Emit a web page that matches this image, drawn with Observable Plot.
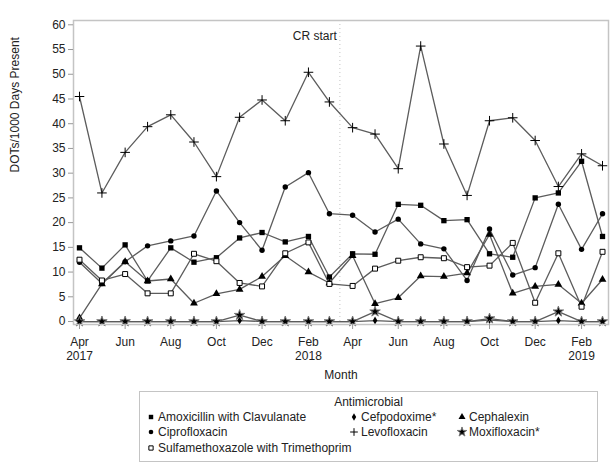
<!DOCTYPE html>
<html><head><meta charset="utf-8">
<script src="https://cdn.jsdelivr.net/npm/d3@7"></script>
<script src="https://cdn.jsdelivr.net/npm/@observablehq/plot@0.6"></script>
<style>
body{margin:0;background:#fff;font-family:Arial,"Liberation Sans",sans-serif;}
#chart{position:relative;width:611px;height:466px;overflow:hidden;}
#chart > svg{position:absolute;left:0;top:0;}
#legend{position:absolute;left:139px;top:391px;width:459px;height:71px;border:1px solid #c4c4c4;box-sizing:border-box;font-size:12px;color:#222;}
.li{position:absolute;white-space:nowrap;line-height:14px;}
.li svg{position:absolute;left:-12px;top:2px;overflow:visible;}
</style></head><body><div id="chart"></div>
<script>
const months = ["2017-04-01","2017-05-01","2017-06-01","2017-07-01","2017-08-01","2017-09-01","2017-10-01","2017-11-01","2017-12-01","2018-01-01","2018-02-01","2018-03-01","2018-04-01","2018-05-01","2018-06-01","2018-07-01","2018-08-01","2018-09-01","2018-10-01","2018-11-01","2018-12-01","2019-01-01","2019-02-01","2019-03-01"];
const amoxicillin = [14.9,10.8,15.5,8.2,14.9,12.0,12.9,16.9,18.0,16.1,17.2,9.0,13.7,13.6,23.7,23.5,20.4,20.6,13.7,13.0,25.0,26.0,32.4,17.2];
const cefpodoxime = [0,0,0,0,0,0,0,0.2,0,0,0,0,0,0.2,0,0,0,0,0.3,0,0,0.2,0,0];
const cephalexin = [0.7,7.6,12.1,8.2,8.6,3.7,5.6,6.5,9.1,13.3,10.0,7.8,13.3,3.6,4.8,9.2,9.1,9.8,17.6,5.7,7.1,7.5,3.7,8.5];
const ciprofloxacin = [12.0,7.7,12.1,15.3,16.3,17.3,26.4,20.0,14.4,27.2,30.1,21.8,21.5,18.1,20.7,15.7,14.7,8.3,18.7,9.4,10.9,23.7,14.6,21.8];
const levofloxacin = [45.5,26.0,34.2,39.4,41.8,36.3,29.3,41.3,44.8,40.6,50.4,44.4,39.2,37.9,30.9,55.7,35.9,25.5,40.6,41.2,36.6,27.3,33.9,31.5];
const moxifloxacin = [0,0,0,0,0,0,0,1.3,0,0,0,0,0,2.0,0,0,0,0,0.6,0,0,2.0,0,0];
const sulfamethoxazole = [12.5,8.3,9.6,5.7,5.7,13.7,12.2,7.8,7.1,13.8,16.0,7.6,7.2,10.7,12.3,13.0,12.8,11.0,11.3,15.9,3.8,13.8,3.0,14.1];
const seriesNames = ["Amoxicillin with Clavulanate","Cefpodoxime*","Cephalexin","Ciprofloxacin","Levofloxacin","Moxifloxacin*","Sulfamethoxazole with Trimethoprim"];
const xTicks = ["2017-04-01","2017-06-01","2017-08-01","2017-10-01","2017-12-01","2018-02-01","2018-04-01","2018-06-01","2018-08-01","2018-10-01","2018-12-01","2019-02-01"];
const yTicks = [0,5,10,15,20,25,30,35,40,45,50,55,60];
const crStart = "2018-03-15";
const crLabel = "CR start";
const xLabel = "Month";
const yLabel = "DOTs/1000 Days Present";
const legendTitle = "Antimicrobial";

const parse = d3.utcParse("%Y-%m-%d");
const valuesList = [amoxicillin, cefpodoxime, cephalexin, ciprofloxacin, levofloxacin, moxifloxacin, sulfamethoxazole];
const styles = [
  {symbol:"square", fill:"#000", stroke:"none", r:3.0, lr:2.5},
  {symbol:"diamond", fill:"#000", stroke:"none", r:2.4, lr:2.3},
  {symbol:"triangle", fill:"#000", stroke:"none", r:2.9, lr:2.6},
  {symbol:"circle", fill:"#000", stroke:"none", r:2.7, lr:2.3},
  {symbol:"plus", fill:"none", stroke:"#000", r:3.2, lr:2.6},
  {symbol:"star", fill:"#000", stroke:"#777", r:3.3, lr:3.0},
  {symbol:"square", fill:"#fff", stroke:"#000", r:2.8, lr:2.4}
];
const series = seriesNames.map((name, k) => ({name, values: valuesList[k], ...styles[k]}));

const lineMarks = [], dotMarks = [];
for (const s of series) {
  const rows = s.values.map((v, i) => ({date: parse(months[i]), value: v}));
  lineMarks.push(Plot.line(rows, {x:"date", y:"value", stroke:"#5c5c5c", strokeWidth:1.3}));
  dotMarks.push(Plot.dot(rows, {x:"date", y:"value", symbol:()=>s.symbol, r:s.r, fill:s.fill, stroke:s.stroke, strokeWidth:1}));
}

const fmt = d3.utcFormat("%b");
const plot = Plot.plot({
  width: 611, height: 390,
  marginLeft: 73, marginRight: 3, marginTop: 20, marginBottom: 66,
  style: {fontFamily: "Arial, 'Liberation Sans', sans-serif", fontSize: "12px", color: "#222", background: "#fff"},
  x: {type: "utc", domain: [parse("2017-03-24"), parse("2019-03-09")]},
  y: {domain: [-0.6, 60.87]},
  symbol: {type: "identity"},
  marks: [
    Plot.ruleX([parse(crStart)], {x: d => d, stroke: "#c4c4c4", strokeDasharray: "1,3"}),
    Plot.text([crLabel], {x: [parse(crStart)], frameAnchor: "top", textAnchor: "end", dx: -3, dy: 11, fill: "#222", fontSize: 12}),
    ...lineMarks,
    ...dotMarks,
    Plot.frame({stroke: "#c4c4c4", strokeWidth: 1.5}),
    Plot.axisY({ticks: yTicks, tickSize: 5, tickPadding: 3, stroke: "#999", fill: "#222", fontSize: 12, label: null}),
    Plot.axisX({ticks: xTicks.map(parse), tickSize: 5, tickPadding: 7, stroke: "#999", fill: "#222", fontSize: 12, lineHeight: 1.15, label: null,
      tickFormat: d => { const m = fmt(d); return (d.getUTCMonth() === 1 || +d === +parse(xTicks[0])) ? m + "\n" + d.getUTCFullYear() : m; }}),
    Plot.text([xLabel], {frameAnchor: "bottom", dy: 54, fill: "#222", fontSize: 12}),
    Plot.text([yLabel], {frameAnchor: "left", rotate: -90, dx: -58, fill: "#222", fontSize: 12})
  ]
});
const chart = document.getElementById("chart");
chart.appendChild(plot);

// legend
const legend = document.createElement("div");
legend.id = "legend";
chart.appendChild(legend);
const title = document.createElement("div");
title.className = "li";
title.textContent = legendTitle;
title.style.left = "0px"; title.style.width = "457px"; title.style.textAlign = "center"; title.style.top = "3px";
legend.appendChild(title);
const symTypes = {square: d3.symbolSquare, diamond: d3.symbolDiamond, triangle: d3.symbolTriangle, circle: d3.symbolCircle, plus: d3.symbolPlus, star: d3.symbolStar};
const pos = [[18,18],[221,18],[329,18],[18,33],[221,33],[329,33],[18,49]];
series.forEach((s, k) => {
  const d = document.createElement("div");
  d.className = "li";
  d.style.left = pos[k][0] + "px"; d.style.top = pos[k][1] + "px";
  d.textContent = s.name;
  const svg = d3.create("svg").attr("width", 10).attr("height", 10);
  svg.append("path").attr("transform", "translate(5,5)")
    .attr("d", d3.symbol(symTypes[s.symbol], Math.PI * s.lr * s.lr)())
    .attr("fill", s.fill).attr("stroke", s.stroke === "none" ? null : s.stroke).attr("stroke-width", 1);
  d.prepend(svg.node());
  legend.appendChild(d);
});
</script></body></html>
